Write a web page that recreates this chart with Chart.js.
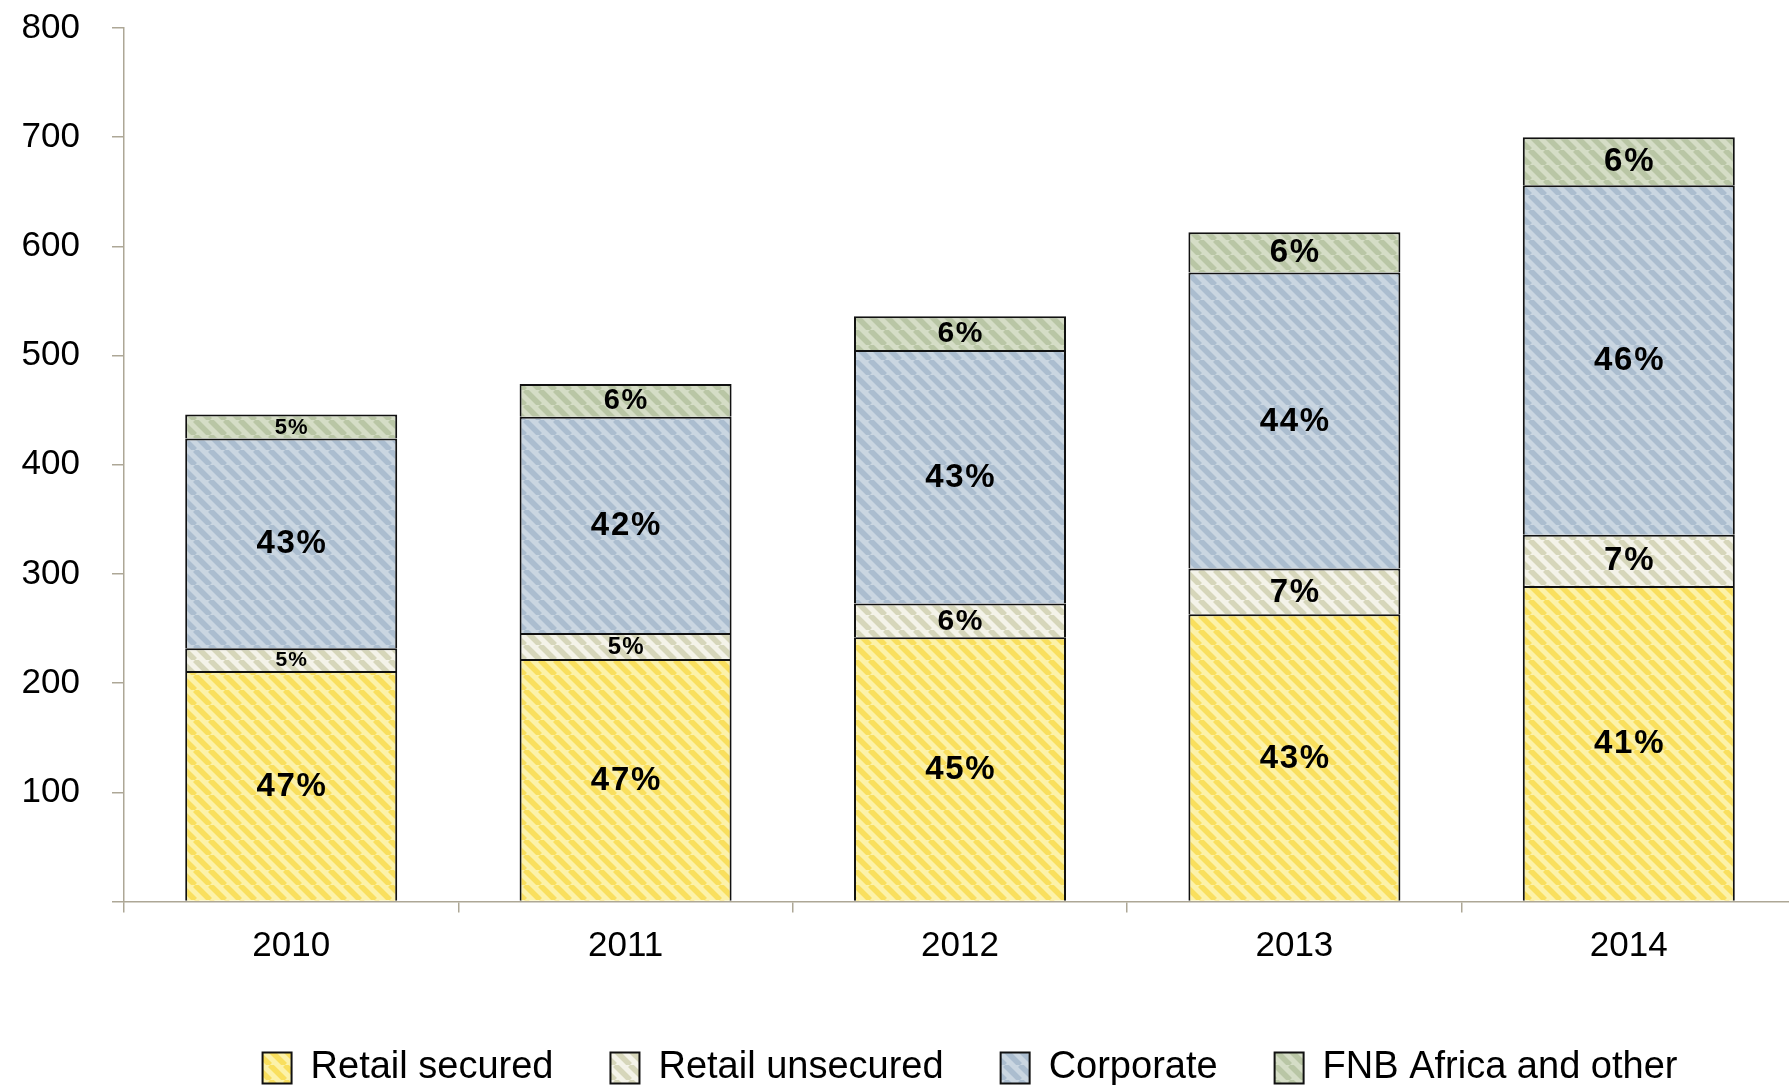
<!DOCTYPE html>
<html>
<head>
<meta charset="utf-8">
<script src="https://cdn.jsdelivr.net/npm/chart.js@4.4.1/dist/chart.umd.min.js"></script>
<style>
  html, body { margin: 0; padding: 0; background: #fff; overflow: hidden; }
  #wrap { width: 1796px; height: 1097px; position: relative; }
</style>
</head>
<body>
<div id="wrap"><canvas id="loansChart"></canvas></div>
<script>
// Carteira de crédito por segmento (R bilhões)
const categories = ['2010', '2011', '2012', '2013', '2014'];
const retailSecured = [211, 222, 242, 263, 289];
const retailUnsecured = [21, 24, 31, 42, 47];
const corporate = [192, 198, 232, 271, 320];
const fnbAfrica = [22, 30, 31, 37, 44];

const axisColor = '#ada796';
const fonte = '"Liberation Sans", Arial, Helvetica, sans-serif';

// Preenchimento hachurado em diagonal
function hachura(base, listra) {
    const p = 15;
    const c = document.createElement('canvas');
    c.width = c.height = p;
    const g = c.getContext('2d');
    g.fillStyle = base;
    g.fillRect(0, 0, p, p);
    g.strokeStyle = listra;
    g.lineWidth = 5.5;
    g.beginPath();
    [-p, 0, p].forEach(off => {
        g.moveTo(off, 0);
        g.lineTo(off + p, p);
    });
    g.stroke();
    return g.createPattern(c, 'repeat');
}

// Percentual de cada segmento sobre o total do ano
const rotulosPct = {
    id: 'rotulosPct',
    afterDatasetsDraw(chart) {
        const ctx = chart.ctx;
        const ds = chart.data.datasets;
        const totais = categories.map((_, i) => ds.reduce((s, d) => s + d.data[i], 0));
        ds.forEach((d, di) => {
            chart.getDatasetMeta(di).data.forEach((bar, i) => {
                const h = bar.base - bar.y;
                const tam = Math.min(33, Math.round(h * 0.9));
                const esp = tam * 0.05;
                ctx.save();
                ctx.font = 'bold ' + tam + 'px ' + fonte;
                ctx.letterSpacing = esp.toFixed(1) + 'px';
                ctx.fillStyle = '#000';
                ctx.textAlign = 'center';
                ctx.textBaseline = 'middle';
                ctx.fillText(Math.round(d.data[i] / totais[i] * 100) + '%', bar.x + esp / 2, bar.y + h / 2 + 1);
                ctx.restore();
            });
        });
    }
};

// Legenda um pouco deslocada para a direita
const ajusteLegenda = {
    id: 'ajusteLegenda',
    afterLayout(chart) {
        chart.legend.left += 10;
        chart.legend.right += 10;
    }
};

const comum = { borderColor: '#111', borderWidth: 2, barPercentage: 0.634, categoryPercentage: 1 };

const ctx = document.getElementById('loansChart').getContext('2d');
const loansChart = new Chart(ctx, {
    type: 'bar',
    data: {
        labels: categories,
        datasets: [
            Object.assign({ label: 'Retail secured', data: retailSecured, backgroundColor: hachura('#fcf2aa', '#f9df5e') }, comum),
            Object.assign({ label: 'Retail unsecured', data: retailUnsecured, backgroundColor: hachura('#f4f3e9', '#d6d6ba') }, comum),
            Object.assign({ label: 'Corporate', data: corporate, backgroundColor: hachura('#cad6e1', '#abbdcf') }, comum),
            Object.assign({ label: 'FNB Africa and other', data: fnbAfrica, backgroundColor: hachura('#d5ddc6', '#b9c6a5') }, comum)
        ]
    },
    options: {
        responsive: true,
        maintainAspectRatio: false,
        animation: false,
        layout: { padding: { top: 28, left: 0, right: 0, bottom: 0 } },
        plugins: {
            tooltip: { enabled: false },
            legend: {
                position: 'bottom',
                fullSize: false,
                labels: {
                    boxWidth: 29,
                    boxHeight: 31,
                    padding: 57,
                    color: '#000',
                    font: { family: fonte, size: 38 }
                }
            }
        },
        scales: {
            x: {
                stacked: true,
                afterFit: s => { s.height = 90.5; },
                border: { color: axisColor, width: 1.5 },
                grid: { drawOnChartArea: false, tickLength: 11, color: axisColor, lineWidth: 1.5 },
                ticks: { color: '#000', padding: 13, font: { family: fonte, size: 35 } }
            },
            y: {
                stacked: true,
                min: 0,
                max: 800,
                afterFit: s => { s.width = 124; s.paddingTop = 0; s.paddingBottom = 0; },
                border: { color: axisColor, width: 1.5 },
                grid: { drawOnChartArea: false, tickLength: 12, color: axisColor, lineWidth: 1.5 },
                ticks: {
                    stepSize: 100,
                    color: '#000',
                    padding: 32,
                    font: { family: fonte, size: 35 },
                    callback: v => v === 0 ? '' : v
                }
            }
        }
    },
    plugins: [rotulosPct, ajusteLegenda]
});
</script>
</body>
</html>
